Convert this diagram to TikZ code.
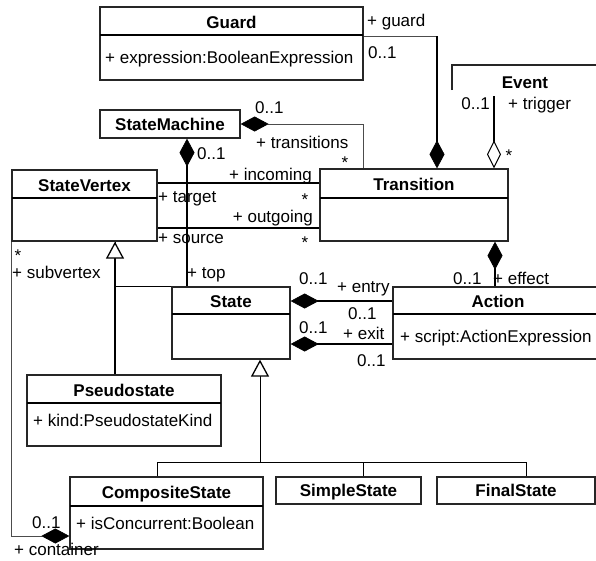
\documentclass[tikz,border=0pt]{standalone}
\usepackage{fontspec}
\setmainfont{Liberation Sans}
\usetikzlibrary{arrows.meta,fit,calc}

% class box: name, x1, y1, x2, y2, divider y, title
\newcommand\classbox[7]{%
  \node[box, fit={(#2,#3) (#4,#5)}] (#1) {};
  \draw[divider] (#2,#6) -- (#4,#6);
  \node[ttl] at ({(#2+#4)/2},{(#3+#6)/2+1}) {#7};}
% box holding the class name only
\newcommand\namebox[6]{%
  \node[box, fit={(#2,#3) (#4,#5)}] (#1) {};
  \node[ttl] at (#1.center) {#6};}

\begin{document}
\begin{tikzpicture}[x=1pt,y=-1pt,
  every node/.style={font=\fontsize{17}{20}\selectfont},
  box/.style={draw=black!85,line width=1.3pt,inner sep=0pt,fill=white},
  divider/.style={line width=2pt,black},
  ttl/.style={font=\fontsize{17}{20}\selectfont\bfseries,inner sep=0pt,text height=12pt,text depth=0pt},
  attr/.style={anchor=west,inner sep=0pt,text height=12pt,text depth=0pt},
  lbl/.style={inner sep=0pt,text height=12pt,text depth=0pt},
  lw/.style={lbl,anchor=west},
  le/.style={lbl,anchor=east},
  conn/.style={line width=2pt,black},
  thinconn/.style={line width=1pt,black!70},
  genline/.style={line width=1pt,black},
  comp/.style={arrows={{Diamond[length=28pt,width=15pt,line width=0.6pt,color=black]}-}},
  agg/.style={arrows={{Diamond[length=28pt,width=14pt,line width=1pt,fill=white]}-}},
  gen/.style={arrows={{Triangle[length=17pt,width=18pt,line width=1.3pt,fill=white]}-}},
]
\useasboundingbox (0,0) rectangle (596,560);
\clip (0,0) rectangle (596,560);

% ---------- classes ----------
\classbox{guard}{100}{7}{363}{80}{35}{Guard}
\node[attr] at (105,57) {+ expression:BooleanExpression};

\node[inner sep=0pt, fit={(452,65) (600,96)}] (ev) {};
\draw[line width=1.3pt,black!85] (452,90) -- (452,65) -- (600,65);
\node[ttl] at (525,82) {Event};

\namebox{sm}{100}{110}{240}{138}{StateMachine}

\classbox{sv}{12}{170}{157}{241}{198}{StateVertex}
\classbox{tr}{320}{169}{508}{241}{198}{Transition}

\classbox{st}{172}{287}{290}{359}{314}{State}
\classbox{act}{393}{287}{603}{359}{314}{Action}
\node[attr] at (400,336) {+ script:ActionExpression};

\classbox{ps}{27}{375}{221}{446}{403}{Pseudostate}
\node[attr] at (33,420) {+ kind:PseudostateKind};

\classbox{cs}{70}{477}{263}{549}{506}{CompositeState}
\node[attr] at (76,523) {+ isConcurrent:Boolean};
\namebox{ss}{276}{477}{421}{504}{SimpleState}
\namebox{fs}{437}{477}{595}{504}{FinalState}

% ---------- generalizations ----------
\draw[genline] (st.north west) -| (sv.south -| 115,0);
\draw[conn, gen] (sv.south -| 115,0) -- (ps.north -| 115,0);

\coordinate (gj) at (260,462);
\draw[genline] (cs.north -| 157,0) -- (157,462) -- (526,462) -- (fs.north -| 526,0);
\draw[genline] (ss.north -| 363,0) -- (363,462);
\draw[genline, gen] (st.south -| gj) -- (gj);

% ---------- associations ----------
\coordinate (gc) at (437,36);
\draw[thinconn] (guard.east |- gc) -- (gc);
\draw[conn, comp] (tr.north -| gc) -- (gc);
\node[lw] at (367,20) {+ guard};
\node[lw] at (368,52) {0..1};

\draw[thinconn, comp] (sm.east) -| (tr.north -| 363,0);
\node[lw] at (255,107) {0..1};
\node[lw] at (256,142) {+ transitions};
\node[lbl] at (345,162) {*};

\draw[conn, agg] (tr.north -| 494,0) -- (ev.south -| 494,0);
\node[le] at (490,103) {0..1};
\node[lw] at (508,103) {+ trigger};
\node[lbl] at (509,155) {*};

\draw[conn, comp] (sm.south -| 187,0) -- (st.north -| 187,0);
\node[lw] at (197,153) {0..1};
\node[lw] at (187,272) {+ top};

\draw[conn] (sv.east |- 0,183) -- (tr.west |- 0,183);
\node[le] at (312,174) {+ incoming};
\node[lw] at (158,196) {+ target};
\node[lbl] at (305,199) {*};

\draw[conn] (sv.east |- 0,228) -- (tr.west |- 0,228);
\node[le] at (313,216) {+ outgoing};
\node[lw] at (158,237) {+ source};
\node[lbl] at (305,242) {*};

\draw[thinconn, comp] (cs.west |- 0,536) -| (sv.south -| 11,0);
\node[lbl] at (18,255) {*};
\node[lw] at (12,272) {+ subvertex};
\node[lw] at (32,522) {0..1};
\node[lw] at (14,549) {+ container};

\draw[conn, comp] (st.east |- 0,301) -- (act.west |- 0,301);
\node[lw] at (299,278) {0..1};
\node[lw] at (337,286) {+ entry};
\node[lw] at (348,313) {0..1};

\draw[conn, comp] (st.east |- 0,344) -- (act.west |- 0,344);
\node[lw] at (299,327) {0..1};
\node[lw] at (343,333) {+ exit};
\node[lw] at (357,360) {0..1};

\draw[conn, comp] (tr.south -| 495,0) -- (act.north -| 495,0);
\node[lw] at (453,278) {0..1};
\node[lw] at (493,278) {+ effect};
\end{tikzpicture}
\end{document}
